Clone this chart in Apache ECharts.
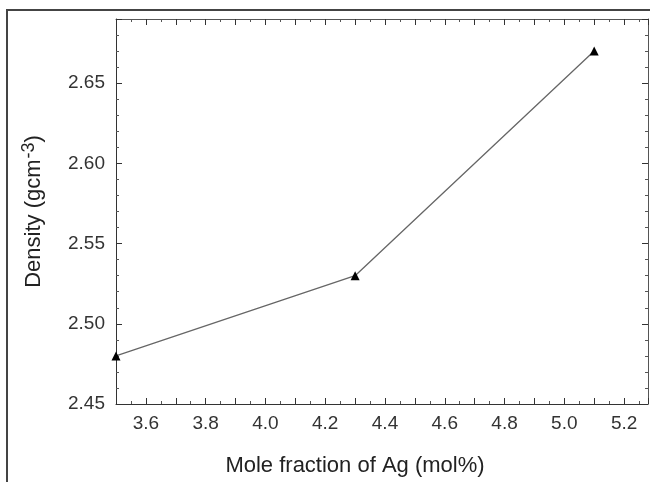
<!DOCTYPE html>
<html style="height: 100%">
<head>
<meta charset="UTF-8">
<title>Density vs Ag</title>
<script src="https://cdn.jsdelivr.net/npm/echarts@6/dist/echarts.min.js"></script>
</head>
<body style="height: 100%; margin: 0; background: #fff">
<div id="container" style="width: 650px; height: 482px"></div>
<script type="text/javascript">
// values
var moleFraction = [3.5, 4.3, 5.1];
var density = [2.48, 2.53, 2.67];
var xTitle = 'Mole fraction of Ag (mol%)';
var yTitle = 'Density (gcm{sup|-3})';

var font = '"Liberation Sans", Arial, sans-serif';
var points = [];
for (var i = 0; i < moleFraction.length; i++) {
	points.push([moleFraction[i], density[i]]);
}

var tickIn = { show: true, inside: true, length: 6, lineStyle: { color: '#333' } };
var minorIn = { show: true, splitNumber: 2, length: 3, lineStyle: { color: '#555' } };

var myChart = echarts.init(document.getElementById('container'));
var option = {
	animation: false,
	backgroundColor: '#fff',
	graphic: [{
		type: 'rect',
		shape: { x: 7, y: 10, width: 700, height: 600 },
		style: { fill: 'none', stroke: '#444', lineWidth: 2 },
		silent: true
	}],
	grid: { left: 116, top: 19, right: 2, bottom: 73 },
	xAxis: [{
		type: 'value',
		min: 3.5,
		max: 5.28,
		interval: 0.1,
		name: xTitle,
		nameLocation: 'middle',
		nameGap: 51,
		nameTextStyle: { fontFamily: font, fontSize: 22, color: '#222', padding: [0, 54, 0, 0] },
		axisLine: { lineStyle: { color: '#333', width: 1 } },
		axisTick: tickIn,
		minorTick: minorIn,
		splitLine: { show: false },
		axisLabel: {
			showMinLabel: false, showMaxLabel: false,
			fontFamily: font, fontSize: 19, color: '#333', margin: 10,
			formatter: function (v) {
				return Math.round(v * 10) % 2 === 0 ? v.toFixed(1) : '';
			}
		}
	}, {
		type: 'value',
		position: 'top',
		min: 3.5,
		max: 5.28,
		interval: 0.1,
		axisLine: { lineStyle: { color: '#555', width: 1 } },
		axisTick: tickIn,
		minorTick: minorIn,
		splitLine: { show: false },
		axisLabel: { show: false }
	}],
	yAxis: [{
		type: 'value',
		min: 2.45,
		max: 2.69,
		interval: 0.05,
		name: yTitle,
		nameLocation: 'middle',
		nameRotate: 90,
		nameGap: 68,
		nameTextStyle: {
			fontFamily: font, fontSize: 22, color: '#222',
			rich: { sup: { fontFamily: font, fontSize: 18, color: '#222', verticalAlign: 'top', padding: [0, 0, 10, 1] } }
		},
		axisLine: { lineStyle: { color: '#333', width: 1 } },
		axisTick: tickIn,
		minorTick: { show: true, splitNumber: 5, length: 3, lineStyle: { color: '#555' } },
		splitLine: { show: false },
		axisLabel: {
			showMaxLabel: false,
			fontFamily: font, fontSize: 19, color: '#333', margin: 11,
			formatter: function (v) { return v.toFixed(2); }
		}
	}, {
		type: 'value',
		position: 'right',
		min: 2.45,
		max: 2.69,
		interval: 0.05,
		axisLine: { lineStyle: { color: '#555', width: 1 } },
		axisTick: tickIn,
		minorTick: { show: true, splitNumber: 5, length: 3, lineStyle: { color: '#555' } },
		splitLine: { show: false },
		axisLabel: { show: false }
	}],
	series: [{
		type: 'line',
		data: points,
		symbol: 'triangle',
		symbolSize: 9,
		itemStyle: { color: '#000' },
		lineStyle: { color: '#666', width: 1.3 }
	}]
};
myChart.setOption(option);
</script>
</body>
</html>
